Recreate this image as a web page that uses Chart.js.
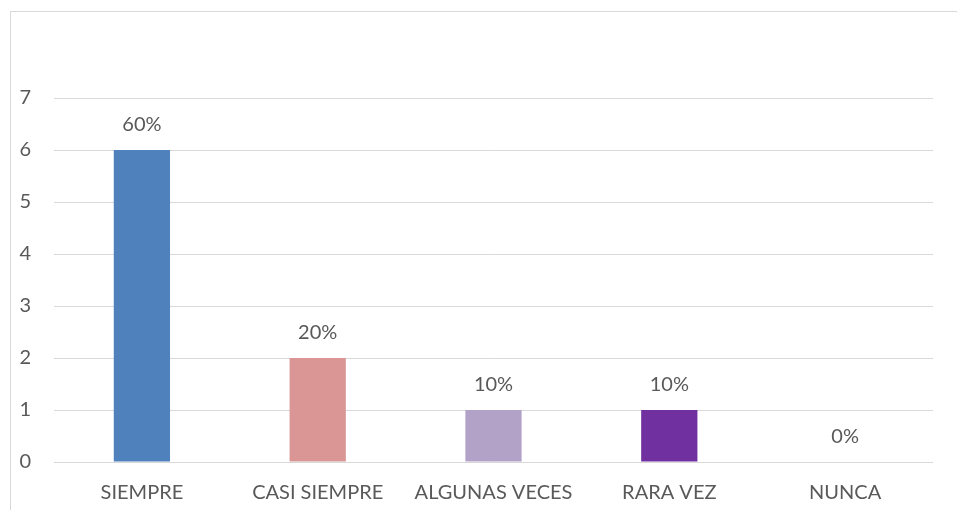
<!DOCTYPE html>
<html>
<head>
<meta charset="utf-8">
<script src="https://cdn.jsdelivr.net/npm/chart.js@4"></script>
<style>
    body { margin: 0; background: #fff; }
    #frame { position: absolute; left: 10px; top: 11px; width: 1000px; height: 600px; border: 1px solid #d9d9d9; }
    #wrap { position: absolute; left: 0; top: 0; width: 957px; height: 510px; }
</style>
</head>
<body>
<div id="frame"></div>
<div id="wrap"><canvas id="chart" width="957" height="510"></canvas></div>
<script>
    // Chart data
    const categories = ['SIEMPRE', 'CASI SIEMPRE', 'ALGUNAS VECES', 'RARA VEZ', 'NUNCA'];
    const counts = [6, 2, 1, 1, 0];
    const percentLabels = ['60%', '20%', '10%', '10%', '0%'];
    const barColors = ['#4f81bd', '#d99694', '#b3a2c7', '#7030a0', '#4bacc6'];
    const yTicks = [0, 1, 2, 3, 4, 5, 6, 7];

    const textColor = '#595959';
    const fontFamily = 'Lato, "Open Sans", sans-serif';

    // draws the % text above every bar
    const barLabels = {
        id: 'barLabels',
        afterDatasetsDraw(chart) {
            const ctx = chart.ctx;
            const meta = chart.getDatasetMeta(0);
            ctx.save();
            ctx.fillStyle = textColor;
            ctx.font = '20px ' + fontFamily;
            ctx.textAlign = 'center';
            ctx.textBaseline = 'middle';
            meta.data.forEach((bar, i) => {
                ctx.fillText(percentLabels[i], bar.x, bar.y - 25);
            });
            ctx.restore();
        }
    };

    const ctx = document.getElementById('chart').getContext('2d');
    new Chart(ctx, {
        type: 'bar',
        data: {
            labels: categories,
            datasets: [{
                data: counts,
                backgroundColor: barColors,
                barPercentage: 0.64,
                categoryPercentage: 0.5
            }]
        },
        options: {
            responsive: false,
            animation: false,
            layout: { padding: { top: 98, right: 24, left: 0, bottom: 0 } },
            plugins: {
                legend: { display: false },
                tooltip: { enabled: false }
            },
            scales: {
                x: {
                    grid: { display: false, drawTicks: false },
                    border: { display: false },
                    ticks: { color: textColor, font: { family: fontFamily, size: 20 }, padding: 19, maxRotation: 0 },
                    afterFit(scale) { scale.height = 48; }
                },
                y: {
                    min: 0,
                    max: 7,
                    afterBuildTicks(scale) { scale.ticks = yTicks.map(v => ({ value: v })); },
                    grid: { color: '#d9d9d9', lineWidth: 1, drawTicks: false },
                    border: { display: false },
                    ticks: { color: textColor, font: { family: fontFamily, size: 20 }, padding: 23 },
                    afterFit(scale) { scale.width = 54; }
                }
            }
        },
        plugins: [barLabels]
    });
</script>
</body>
</html>
